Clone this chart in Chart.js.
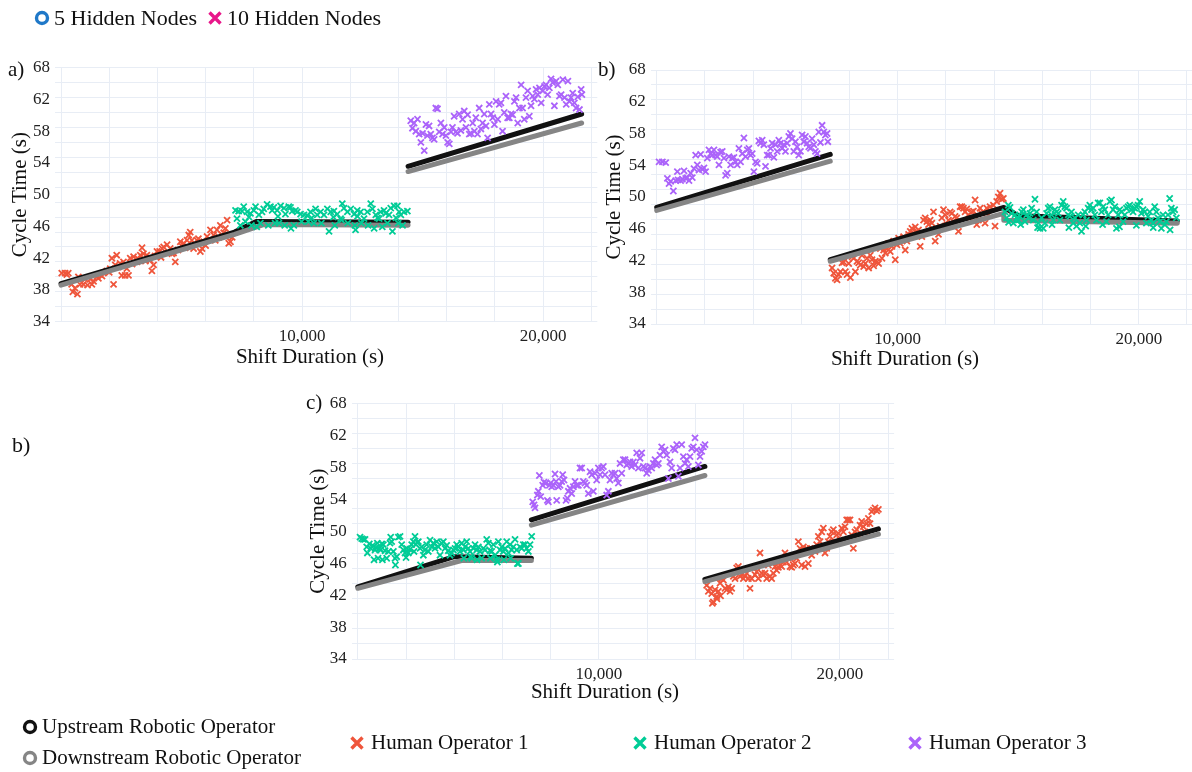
<!DOCTYPE html>
<html>
<head>
<meta charset="utf-8">
<title>Cycle time by shift duration</title>
<script src="https://cdn.jsdelivr.net/npm/chart.js@4.4.1/dist/chart.umd.min.js"></script>
<style>
  html, body { margin: 0; padding: 0; background: #ffffff; width: 1192px; height: 772px; overflow: hidden; }
  canvas.panel { position: absolute; left: 0; top: 0; }
  .t { position: absolute; font-family: "Liberation Serif", "Times New Roman", serif; color: #111; white-space: nowrap; }
  svg.sym { position: absolute; overflow: visible; }
</style>
</head>
<body>
<canvas id="chartA" class="panel" width="1200" height="772"></canvas>
<canvas id="chartB" class="panel" width="1200" height="772"></canvas>
<canvas id="chartC" class="panel" width="1200" height="772"></canvas>
<script>
// ---------- axes ----------
const xGridValues = [0, 2000, 4000, 6000, 8000, 10000, 12000, 14000, 16000, 18000, 20000, 22000];
const xLabeledTicks = [10000, 20000];
const yGridValues = [34, 36, 38, 40, 42, 44, 46, 48, 50, 52, 54, 56, 58, 60, 62, 64, 66, 68];
const yTickLabels = ['34', '38', '42', '46', '50', '54', '58', '62', '68'];

// ---------- series names ----------
const seriesNames = ['Upstream Robotic Operator', 'Downstream Robotic Operator', 'Human Operator 1', 'Human Operator 2', 'Human Operator 3'];
const modelNames = ['5 Hidden Nodes', '10 Hidden Nodes'];

// ---------- panel a: shift duration (s), cycle time (s) ----------
const aHuman1 = [[30,40.5],[170,40.5],[240,40.3],[300,40.5],[440,39.0],[490,38.0],[580,38.5],[680,37.7],[720,40.0],[790,39.0],[930,39.0],[1000,39.7],[1100,38.9],[1210,39.7],[1280,39.0],[1350,39.4],[1480,40.0],[1550,39.8],[1620,40.3],[1700,40.1],[1760,40.5],[1900,40.8],[2000,40.6],[2040,41.1],[2110,42.5],[2180,39.0],[2250,41.6],[2310,42.9],[2380,41.3],[2450,41.8],[2520,40.2],[2590,42.0],[2660,40.2],[2730,41.1],[2800,40.2],[2870,42.5],[2950,41.7],[3010,42.7],[3150,42.0],[3200,42.4],[3290,42.9],[3360,43.9],[3420,43.1],[3500,42.1],[3560,42.9],[3700,42.2],[3770,40.8],[3840,41.6],[3900,42.8],[3980,43.4],[4090,43.4],[4150,42.6],[4190,43.8],[4260,44.0],[4400,44.3],[4530,43.8],[4600,43.1],[4670,43.2],[4740,42.0],[4850,43.6],[4950,44.7],[5020,44.1],[5090,44.5],[5150,43.9],[5230,44.9],[5300,45.6],[5360,46.0],[5430,44.9],[5500,43.8],[5550,44.4],[5640,44.9],[5700,45.1],[5780,43.4],[5850,43.8],[5920,44.7],[6000,44.2],[6060,45.4],[6150,45.0],[6200,46.3],[6330,45.6],[6400,44.9],[6470,46.3],[6550,45.3],[6610,46.9],[6680,45.6],[6750,45.9],[6820,46.5],[6890,47.6],[6960,44.5],[7030,44.7],[7100,45.3]];
const aHuman2 = [[7240,48.9],[7300,47.8],[7370,48.8],[7440,46.9],[7510,48.8],[7580,49.4],[7650,47.4],[7720,48.7],[7800,48.0],[7860,48.5],[7900,46.9],[8000,48.9],[8070,49.4],[8120,46.7],[8210,48.3],[8270,47.2],[8340,48.7],[8410,49.1],[8550,49.7],[8600,46.9],[8690,49.4],[8760,48.9],[8830,49.3],[8880,47.2],[8970,48.9],[9000,48.1],[9040,47.2],[9110,49.5],[9250,49.2],[9280,46.9],[9310,48.4],[9450,49.4],[9520,49.3],[9540,46.5],[9590,48.8],[9660,46.9],[9730,48.9],[9800,48.7],[9940,48.4],[9980,47.4],[10080,48.3],[10220,48.2],[10260,47.4],[10350,48.7],[10400,47.9],[10490,47.2],[10560,49.1],[10630,48.3],[10770,48.7],[10800,47.2],[10910,48.3],[11050,49.1],[11120,46.1],[11190,48.7],[11300,48.0],[11320,48.8],[11360,46.9],[11460,48.4],[11600,47.8],[11640,47.6],[11670,49.8],[11740,49.2],[11880,48.7],[11900,47.2],[12020,49.1],[12160,48.4],[12190,46.9],[12220,46.3],[12290,48.9],[12300,48.1],[12430,48.7],[12460,47.2],[12570,47.8],[12710,48.7],[12740,46.9],[12850,49.8],[12920,49.1],[12990,46.5],[13060,48.3],[13130,47.9],[13200,47.8],[13260,48.7],[13330,46.7],[13400,48.9],[13470,48.5],[13540,47.2],[13610,48.3],[13680,49.2],[13750,46.1],[13820,49.5],[13900,47.9],[13960,49.5],[13990,47.2],[14030,48.7],[14100,48.3],[14170,46.9],[14230,48.7],[14370,48.8]];
const aHuman3 = [[14510,60.9],[14580,59.9],[14650,60.6],[14720,59.5],[14790,61.1],[14860,59.1],[14930,58.0],[15000,59.2],[15070,56.9],[15140,60.4],[15200,58.9],[15270,60.2],[15340,59.1],[15410,58.6],[15480,58.4],[15550,62.6],[15620,62.5],[15690,59.4],[15760,60.6],[15830,59.1],[15900,60.0],[15970,58.9],[16040,58.0],[16110,57.8],[16180,59.4],[16240,60.0],[16310,61.5],[16380,59.4],[16450,59.2],[16520,61.8],[16590,59.6],[16660,61.1],[16730,62.2],[16800,60.0],[16870,61.7],[16940,59.1],[17010,59.2],[17080,60.6],[17150,59.5],[17210,61.3],[17280,59.1],[17350,62.6],[17420,59.8],[17490,60.6],[17560,61.8],[17630,60.2],[17700,58.6],[17770,63.1],[17840,61.8],[17910,61.3],[17980,60.4],[18050,63.5],[18120,61.1],[18180,63.1],[18250,63.3],[18320,59.5],[18390,62.0],[18460,64.2],[18530,61.3],[18600,61.3],[18670,61.8],[18740,61.7],[18810,63.5],[18880,64.0],[18950,60.6],[19020,62.6],[19090,65.7],[19150,62.6],[19220,61.1],[19290,64.0],[19360,64.9],[19430,61.5],[19500,62.9],[19570,64.2],[19640,63.8],[19710,65.1],[19780,64.4],[19850,65.3],[19920,63.3],[19990,64.9],[20060,65.5],[20120,65.7],[20190,64.4],[20260,65.3],[20330,66.5],[20400,66.0],[20470,62.9],[20540,66.2],[20610,65.7],[20680,64.2],[20750,64.4],[20820,66.4],[20890,64.0],[20960,63.1],[21030,66.2],[21090,63.5],[21160,64.0],[21230,64.6],[21300,63.3],[21370,62.6],[21440,64.1],[21510,62.4],[21580,65.1],[21610,64.4]];
const aUpstream = [[[0,39.1],[7200,46.0],[8100,47.4],[14400,47.3]], [[14400,54.8],[21600,61.8]]];
const aDownstream = [[[0,38.9],[7200,45.7],[8400,47.0],[14400,46.9]], [[14400,54.1],[21600,60.6]]];

// ---------- panel b ----------
const bHuman3 = [[97,55.7],[235,55.7],[373,55.6],[442,53.5],[511,52.8],[580,53.1],[690,51.8],[787,53.2],[856,54.4],[884,53.3],[994,53.2],[1063,53.4],[1132,54.5],[1201,53.5],[1270,53.6],[1339,53.2],[1408,54.2],[1477,53.6],[1546,54.8],[1615,56.6],[1684,55.3],[1753,54.6],[1822,56.7],[1891,54.7],[1960,54.9],[2029,54.4],[2098,56.2],[2167,57.3],[2236,56.8],[2305,56.6],[2374,57.3],[2443,56.6],[2512,56.4],[2581,55.3],[2650,57.0],[2719,57.1],[2789,56.2],[2858,53.9],[2927,54.2],[2996,56.4],[3065,55.3],[3134,56.2],[3203,56.3],[3272,55.7],[3341,55.3],[3410,57.5],[3479,55.7],[3548,56.8],[3617,58.9],[3686,56.4],[3755,57.3],[3824,57.5],[3893,56.6],[3962,56.8],[4031,54.4],[4100,55.7],[4169,55.5],[4238,58.5],[4307,58.2],[4376,58.6],[4445,58.0],[4514,55.1],[4583,56.6],[4652,56.6],[4721,57.5],[4790,58.2],[4859,56.3],[4928,58.0],[4997,57.1],[5066,58.6],[5135,58.2],[5204,57.5],[5273,58.0],[5342,57.1],[5411,58.2],[5480,59.1],[5549,59.5],[5618,58.8],[5687,57.1],[5756,58.4],[5825,57.7],[5894,56.6],[5963,57.1],[6032,59.3],[6101,58.4],[6170,59.1],[6239,58.2],[6308,57.7],[6377,57.5],[6446,58.8],[6516,58.0],[6585,57.1],[6654,56.8],[6723,59.7],[6792,58.3],[6861,60.6],[6930,59.7],[6999,59.3],[7068,59.5],[7100,58.4]];
const bHuman1 = [[7275,41.5],[7344,40.8],[7413,40.1],[7482,39.9],[7551,40.6],[7620,41.0],[7689,42.2],[7758,42.3],[7827,41.0],[7896,40.6],[7965,42.1],[8034,40.2],[8103,43.0],[8172,42.8],[8241,41.0],[8310,42.4],[8379,42.2],[8448,41.9],[8517,43.2],[8586,41.7],[8655,42.1],[8724,42.8],[8793,41.5],[8862,43.2],[8931,42.6],[9000,41.8],[9069,42.4],[9138,42.3],[9207,42.1],[9276,44.1],[9345,42.8],[9414,43.9],[9483,43.5],[9552,44.1],[9621,44.8],[9690,43.7],[9759,44.4],[9828,45.1],[9897,42.6],[9966,44.6],[10035,45.5],[10104,44.8],[10173,45.3],[10242,45.7],[10311,43.9],[10380,45.1],[10449,46.0],[10518,46.4],[10587,46.8],[10656,46.2],[10725,47.0],[10794,46.4],[10863,46.6],[10932,44.4],[11001,45.7],[11070,47.9],[11139,48.2],[11208,47.7],[11277,47.3],[11346,47.9],[11415,47.5],[11484,49.0],[11553,45.1],[11622,46.8],[11691,46.0],[11760,47.1],[11829,48.2],[11898,49.3],[11967,48.6],[12036,47.3],[12105,47.9],[12174,49.0],[12243,48.8],[12312,47.7],[12381,48.4],[12450,48.2],[12519,46.4],[12588,49.7],[12657,49.7],[12726,49.5],[12795,49.0],[12864,49.4],[12933,48.6],[13002,48.2],[13071,49.0],[13140,49.1],[13209,50.6],[13278,47.3],[13347,47.9],[13416,49.5],[13485,48.8],[13554,49.0],[13623,47.5],[13692,49.5],[13761,48.6],[13830,49.7],[13968,49.9],[14037,47.1],[14106,50.4],[14175,51.0],[14244,51.5],[14313,50.7],[14382,50.8]];
const bHuman2 = [[14451,49.0],[14520,48.2],[14589,49.9],[14600,47.6],[14658,49.6],[14727,48.8],[14796,47.5],[14865,48.6],[14934,48.2],[15003,47.9],[15072,48.4],[15100,47.3],[15141,49.0],[15210,49.3],[15279,47.7],[15348,48.6],[15417,48.2],[15486,48.8],[15555,49.5],[15624,47.9],[15693,50.7],[15762,49.0],[15800,46.9],[15831,47.5],[15900,46.8],[15969,48.2],[16038,46.8],[16107,47.5],[16176,48.8],[16245,49.5],[16314,49.7],[16383,48.6],[16400,47.3],[16452,47.9],[16521,49.3],[16590,49.0],[16659,48.8],[16728,47.9],[16797,49.9],[16866,50.4],[16935,49.7],[17004,49.5],[17073,48.6],[17100,46.9],[17142,48.4],[17211,49.0],[17280,47.5],[17349,48.2],[17418,47.1],[17487,48.6],[17556,47.5],[17625,46.4],[17694,48.6],[17763,49.0],[17800,47.1],[17832,47.9],[17901,49.5],[17970,49.9],[18039,49.3],[18108,49.5],[18177,48.6],[18246,47.9],[18315,50.2],[18384,50.2],[18453,49.0],[18500,47.3],[18522,49.7],[18591,49.3],[18660,47.7],[18729,48.6],[18798,50.4],[18867,50.6],[18936,49.3],[19005,49.7],[19074,46.8],[19143,48.6],[19200,47.0],[19212,49.3],[19281,49.0],[19350,47.7],[19419,48.6],[19488,49.5],[19557,49.7],[19626,49.9],[19695,49.3],[19764,49.0],[19833,49.5],[19900,47.2],[19902,49.7],[19971,49.9],[20040,50.4],[20109,48.8],[20178,49.3],[20247,49.0],[20316,47.5],[20385,48.4],[20454,49.0],[20523,47.9],[20592,47.5],[20600,46.9],[20661,49.7],[20730,49.0],[20799,48.2],[20868,47.7],[20937,46.8],[21006,48.6],[21075,47.3],[21144,47.7],[21213,48.6],[21282,50.8],[21300,46.6],[21351,49.5],[21420,49.0],[21489,49.3],[21558,48.2]];
const bUpstream = [[[0,49.6],[7200,56.7]], [[7200,42.6],[14400,49.6],[15000,48.5],[21600,47.8]]];
const bDownstream = [[[0,49.2],[7200,55.8]], [[7200,42.4],[14400,48.8],[14400,47.9],[21600,47.5]]];

// ---------- panel c ----------
const cHuman2 = [[91,50.2],[160,50.0],[230,49.9],[299,49.9],[368,48.9],[396,48.1],[478,49.3],[534,48.7],[617,49.1],[672,47.2],[714,48.5],[755,48.8],[810,49.4],[840,47.4],[893,48.7],[949,48.5],[990,49.3],[1020,47.2],[1059,49.2],[1129,48.4],[1198,47.4],[1267,48.3],[1336,49.4],[1364,50.2],[1405,49.6],[1474,48.3],[1543,47.4],[1560,46.5],[1613,47.6],[1682,50.2],[1751,50.3],[1820,49.2],[1889,48.5],[1958,48.1],[2000,47.5],[2028,48.7],[2097,48.1],[2166,48.6],[2235,49.2],[2304,49.6],[2332,48.3],[2373,50.3],[2415,49.2],[2470,49.5],[2511,49.6],[2581,48.7],[2600,46.5],[2650,48.9],[2719,47.8],[2788,48.5],[2857,49.2],[2926,48.3],[2996,49.8],[3065,48.9],[3134,49.4],[3203,48.7],[3272,49.6],[3341,48.9],[3410,47.8],[3480,49.4],[3549,49.6],[3618,48.7],[3687,49.1],[3756,48.4],[3825,47.8],[3895,48.1],[3964,48.5],[4033,48.7],[4102,49.2],[4171,48.9],[4240,48.3],[4310,49.4],[4379,48.5],[4400,47.4],[4448,48.9],[4517,49.6],[4586,48.7],[4655,48.3],[4680,47.6],[4724,47.4],[4793,48.7],[4863,49.2],[4932,48.5],[4950,47.2],[5001,48.9],[5070,48.3],[5139,47.4],[5208,48.7],[5278,48.5],[5347,49.9],[5416,49.4],[5485,48.4],[5500,47.4],[5554,48.3],[5623,49.2],[5693,47.8],[5762,47.2],[5790,46.9],[5831,49.6],[5900,48.5],[5969,48.9],[6038,48.3],[6060,47.2],[6108,48.7],[6177,49.6],[6246,48.1],[6315,49.2],[6340,47.4],[6384,48.5],[6453,48.9],[6523,49.9],[6592,48.5],[6620,46.7],[6661,46.7],[6730,48.9],[6799,48.7],[6868,49.2],[6938,49.2],[7007,48.7],[7076,48.3],[7145,49.2],[7214,50.3]];
const cHuman3 = [[7255,54.9],[7311,54.5],[7352,54.1],[7449,55.8],[7490,56.3],[7532,58.4],[7587,55.6],[7670,57.1],[7725,57.5],[7808,57.4],[7864,55.1],[7905,54.9],[7947,57.1],[8002,57.4],[8043,56.9],[8113,57.1],[8182,58.6],[8223,57.6],[8251,55.1],[8320,56.9],[8389,57.1],[8458,57.6],[8500,58.5],[8555,57.8],[8638,55.1],[8694,55.4],[8735,56.3],[8804,56.7],[8873,56.0],[8942,56.9],[9012,57.6],[9081,57.1],[9150,57.1],[9219,59.4],[9288,59.4],[9357,57.6],[9426,57.4],[9496,57.1],[9565,56.0],[9634,58.9],[9703,58.5],[9772,56.3],[9841,58.7],[9910,57.8],[9980,59.4],[10049,58.5],[10118,59.4],[10187,59.6],[10256,58.5],[10325,55.8],[10395,56.3],[10464,57.8],[10533,58.7],[10602,58.5],[10671,58.7],[10740,58.0],[10809,57.4],[10879,60.0],[10948,58.7],[11017,60.5],[11086,60.5],[11155,59.8],[11224,60.0],[11294,60.2],[11363,59.6],[11432,60.2],[11501,59.8],[11570,61.4],[11639,59.4],[11708,60.7],[11778,61.4],[11847,59.6],[11916,59.4],[11985,58.7],[12054,59.1],[12123,59.6],[12192,59.4],[12262,60.0],[12331,60.5],[12400,59.8],[12469,60.0],[12538,61.1],[12607,62.2],[12677,61.6],[12746,61.8],[12815,61.1],[12884,58.0],[12953,60.2],[13022,59.4],[13091,62.0],[13161,61.8],[13230,62.5],[13299,58.3],[13368,59.4],[13437,62.5],[13506,60.9],[13575,60.0],[13645,60.5],[13714,59.6],[13783,60.9],[13852,62.0],[13921,62.2],[13990,63.4],[14059,61.8],[14129,59.8],[14198,60.9],[14267,61.6],[14336,62.2],[14405,62.5]];
const cHuman1 = [[14474,43.8],[14544,43.0],[14613,43.4],[14682,42.7],[14710,41.4],[14751,41.6],[14820,43.2],[14889,42.3],[14900,42.0],[14958,43.0],[15028,44.1],[15050,42.4],[15097,44.7],[15166,44.5],[15235,43.4],[15304,43.2],[15373,43.6],[15443,43.0],[15512,43.4],[15581,45.0],[15650,44.7],[15719,46.1],[15788,46.3],[15857,45.0],[15927,45.2],[15996,44.7],[16065,45.0],[16134,45.4],[16203,44.7],[16272,43.4],[16341,44.7],[16411,46.1],[16480,45.2],[16549,45.6],[16618,44.7],[16687,48.1],[16756,45.4],[16826,45.2],[16895,45.4],[16964,44.7],[17033,46.5],[17102,45.0],[17171,44.7],[17240,45.4],[17310,46.3],[17379,45.8],[17448,46.2],[17517,46.5],[17586,46.3],[17655,46.9],[17724,48.1],[17794,46.9],[17863,47.4],[17932,46.3],[18001,46.2],[18070,46.5],[18139,46.7],[18208,47.4],[18278,49.6],[18347,48.7],[18416,46.5],[18485,48.9],[18554,46.3],[18623,48.7],[18692,46.7],[18762,48.7],[18831,47.8],[18900,48.5],[18969,48.3],[19038,49.2],[19107,50.3],[19177,49.6],[19246,50.9],[19315,51.4],[19384,48.1],[19453,48.7],[19522,49.6],[19591,50.3],[19661,50.9],[19730,51.2],[19799,49.6],[19868,50.5],[19937,50.7],[20006,49.8],[20075,51.4],[20145,50.9],[20214,51.6],[20283,52.5],[20352,52.5],[20421,52.5],[20490,50.5],[20559,48.7],[20629,50.9],[20698,51.2],[20767,50.5],[20836,51.8],[20905,52.3],[20974,51.6],[21043,50.9],[21113,52.0],[21182,52.7],[21251,52.0],[21320,53.6],[21389,53.8],[21458,54.1],[21528,53.7],[21597,53.9]];
const cUpstream = [[[0,43.6],[4000,47.6],[7200,47.4]], [[7200,52.5],[14400,59.6]], [[14400,44.6],[21600,51.3]]];
const cDownstream = [[[0,43.4],[4300,47.1],[7200,47.1]], [[7200,51.8],[14400,58.4]], [[14400,44.3],[21600,50.6]]];

// ---------- styling ----------
const COLORS = { up: '#111111', down: '#858585', h1: '#EF553B', h2: '#00CC96', h3: '#AB63FA', hidden5: '#1f78c8', hidden10: '#e8178a' };
const GRID = '#e8edf5';
const SERIF = '"Liberation Serif", "Times New Roman", serif';
Chart.defaults.font.family = SERIF;
Chart.defaults.color = '#222';

const X_MIN = -250, X_MAX = 22250, Y_MIN = 34, Y_MAX = 68;
const AREA_WIDTH = 542.3;
const CANVAS_W = 1200, CANVAS_H = 772, X_AXIS_H = 40;

function toPoints(list) { return list.map(([x, y]) => ({ x, y })); }
function segmentsToPoints(segs) {
  const out = [];
  segs.forEach((seg, i) => {
    if (i > 0) out.push({ x: seg[0][0], y: null });
    seg.forEach(([x, y]) => out.push({ x, y }));
  });
  return out;
}
function humanSet(name, list, color, order) {
  return { type: 'scatter', label: name, data: toPoints(list), pointStyle: 'crossRot', pointRadius: 4.3,
    borderColor: color, backgroundColor: color, borderWidth: 1.8, order };
}
function robotSet(name, segs, color, order) {
  return { type: 'line', label: name, data: segmentsToPoints(segs), borderColor: color, borderWidth: 5,
    pointRadius: 0, fill: false, tension: 0, spanGaps: false, borderCapStyle: 'round', borderJoinStyle: 'round', order };
}

function buildPanel(canvasId, frame, sets) {
  const L = 21 * 1.2;
  const boxLeft = frame.yTitleX - L / 2;
  const yAxisW = frame.areaLeft - boxLeft;
  const right = CANVAS_W - (frame.areaLeft + AREA_WIDTH);
  const bottom = CANVAS_H - frame.areaBottom - X_AXIS_H;
  return new Chart(document.getElementById(canvasId), {
    type: 'scatter',
    data: { datasets: sets },
    options: {
      responsive: false, animation: false, events: [],
      layout: { padding: { left: boxLeft, top: frame.areaTop, right, bottom } },
      plugins: { legend: { display: false }, tooltip: { enabled: false } },
      scales: {
        x: {
          type: 'linear', min: X_MIN, max: X_MAX,
          afterBuildTicks: s => { s.ticks = xGridValues.map(v => ({ value: v })); },
          afterFit: s => { s.height = X_AXIS_H; },
          ticks: { autoSkip: false, maxRotation: 0, padding: 5, font: { size: 17 }, color: '#222',
            callback: v => xLabeledTicks.includes(v) ? v.toLocaleString('en-US') : '' },
          grid: { color: GRID, lineWidth: 1, drawTicks: false },
          border: { display: false }
        },
        y: {
          type: 'linear', position: 'left', min: Y_MIN, max: Y_MAX,
          afterBuildTicks: s => { s.ticks = yGridValues.map(v => ({ value: v })); },
          afterFit: s => { s.width = 0; },
          ticks: { display: false },
          grid: { color: GRID, lineWidth: 1, drawTicks: false },
          border: { display: false }
        },
        yl: {
          type: 'linear', position: 'left', min: Y_MIN, max: Y_MAX,
          afterBuildTicks: s => {
            const n = yTickLabels.length - 1;
            s.ticks = yTickLabels.map((_, i) => ({ value: Y_MIN + (Y_MAX - Y_MIN) * i / n }));
          },
          afterFit: s => { s.width = yAxisW; },
          ticks: { padding: 5, font: { size: 17 }, color: '#222', callback: (v, i) => yTickLabels[i] },
          grid: { display: false, drawTicks: false },
          border: { display: false },
          title: { display: true, text: 'Cycle Time (s)', font: { size: 21 }, color: '#111', padding: 0 }
        }
      }
    }
  });
}

buildPanel('chartA', { areaLeft: 55.0, areaTop: 67.7, areaBottom: 321.7, yTitleX: 20 }, [
  humanSet(seriesNames[2], aHuman1, COLORS.h1, 3),
  robotSet(seriesNames[0], aUpstream, COLORS.up, 2),
  robotSet(seriesNames[1], aDownstream, COLORS.down, 1),
  humanSet(seriesNames[3], aHuman2, COLORS.h2, 0),
  humanSet(seriesNames[4], aHuman3, COLORS.h3, 0)
]);
buildPanel('chartB', { areaLeft: 650.7, areaTop: 70.0, areaBottom: 324.0, yTitleX: 614 }, [
  humanSet(seriesNames[2], bHuman1, COLORS.h1, 3),
  robotSet(seriesNames[0], bUpstream, COLORS.up, 2),
  robotSet(seriesNames[1], bDownstream, COLORS.down, 1),
  humanSet(seriesNames[3], bHuman2, COLORS.h2, 0),
  humanSet(seriesNames[4], bHuman3, COLORS.h3, 0)
]);
buildPanel('chartC', { areaLeft: 351.8, areaTop: 403.3, areaBottom: 659.0, yTitleX: 318 }, [
  humanSet(seriesNames[2], cHuman1, COLORS.h1, 3),
  robotSet(seriesNames[0], cUpstream, COLORS.up, 2),
  robotSet(seriesNames[1], cDownstream, COLORS.down, 1),
  humanSet(seriesNames[3], cHuman2, COLORS.h2, 0),
  humanSet(seriesNames[4], cHuman3, COLORS.h3, 0)
]);

// ---------- text and legend symbols ----------
function addText(txt, x, cy, size, align) {
  const d = document.createElement('div');
  d.className = 't';
  d.textContent = txt;
  d.style.fontSize = size + 'px';
  d.style.lineHeight = (size * 1.2) + 'px';
  d.style.top = (cy - size * 0.6) + 'px';
  d.style.left = x + 'px';
  if (align === 'center') d.style.transform = 'translateX(-50%)';
  document.body.appendChild(d);
}
const SVG_NS = 'http://www.w3.org/2000/svg';
function addSymbol(kind, color, cx, cy) {
  const s = document.createElementNS(SVG_NS, 'svg');
  s.setAttribute('class', 'sym');
  s.setAttribute('width', '16'); s.setAttribute('height', '16');
  s.style.left = (cx - 8) + 'px'; s.style.top = (cy - 8) + 'px';
  let el;
  if (kind === 'ring') {
    el = document.createElementNS(SVG_NS, 'circle');
    el.setAttribute('cx', '8'); el.setAttribute('cy', '8'); el.setAttribute('r', '5.5');
    el.setAttribute('fill', 'none');
  } else {
    el = document.createElementNS(SVG_NS, 'path');
    el.setAttribute('d', 'M2.5 2.5 L13.5 13.5 M13.5 2.5 L2.5 13.5');
  }
  el.setAttribute('stroke', color);
  el.setAttribute('stroke-width', '3.4');
  s.appendChild(el);
  document.body.appendChild(s);
}

// model legend
addSymbol('ring', COLORS.hidden5, 42, 18);
addText(modelNames[0], 54, 18, 22);
addSymbol('cross', COLORS.hidden10, 215, 18);
addText(modelNames[1], 227, 18, 22);

// panel tags and axis titles
addText('a)', 8, 70, 21);
addText('b)', 598, 70, 21);
addText('c)', 306, 403, 21);
addText('b)', 12, 445, 22);
addText('Shift Duration (s)', 310, 357, 21, 'center');
addText('Shift Duration (s)', 905, 359, 21, 'center');
addText('Shift Duration (s)', 605, 692, 21, 'center');

// operator legend
addSymbol('ring', COLORS.up, 30, 727);
addText(seriesNames[0], 42, 727, 21);
addSymbol('ring', COLORS.down, 30, 758);
addText(seriesNames[1], 42, 758, 21);
addSymbol('cross', COLORS.h1, 357, 743);
addText(seriesNames[2], 371, 743, 21);
addSymbol('cross', COLORS.h2, 640, 743);
addText(seriesNames[3], 654, 743, 21);
addSymbol('cross', COLORS.h3, 915, 743);
addText(seriesNames[4], 929, 743, 21);
</script>
</body>
</html>
